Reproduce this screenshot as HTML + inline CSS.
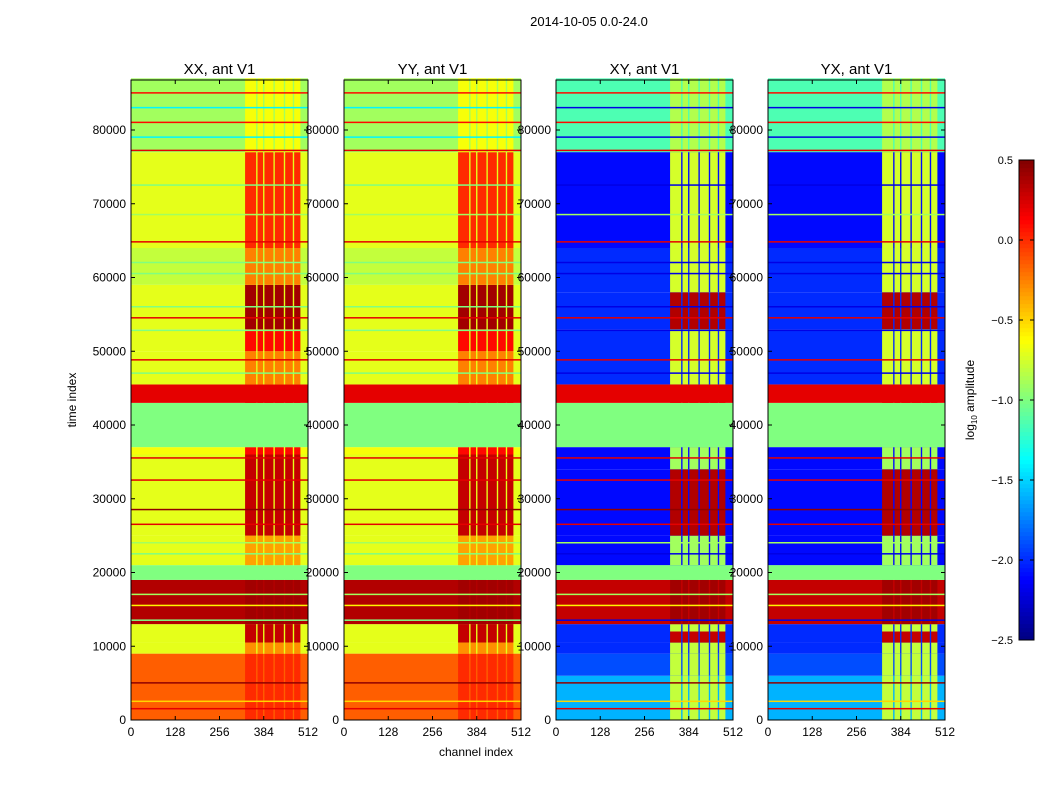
<!DOCTYPE html>
<html><head><meta charset="utf-8"><style>
body{margin:0;background:#fff;font-family:"Liberation Sans",sans-serif;}
svg text{font-family:"Liberation Sans",sans-serif;}
</style></head><body>
<svg id="fig" width="1050" height="800" xmlns="http://www.w3.org/2000/svg">
<text x="589" y="26" font-size="13" text-anchor="middle">2014-10-05 0.0-24.0</text>
<text x="476" y="756" font-size="12" text-anchor="middle">channel index</text>
<text transform="translate(76,400) rotate(-90)" font-size="12" text-anchor="middle">time index</text>
<text transform="translate(974,400) rotate(-90)" font-size="12" text-anchor="middle">log<tspan font-size="8" dy="3">10</tspan><tspan dy="-3"> amplitude</tspan></text>
<g id="panels"></g>
<g id="cbar"></g>
</svg>
<script>
const panelTitles = ["XX, ant V1","YY, ant V1","XY, ant V1","YX, ant V1"];
const yTicks = [0,10000,20000,30000,40000,50000,60000,70000,80000];
const xTicks = [0,128,256,384,512];
const cbarTicks = [0.5,0.0,-0.5,-1.0,-1.5,-2.0,-2.5];
const hotCols = [[330,362],[366,382],[386,412],[416,442],[446,468],[472,490]];
// rows: [t0, t1, baseValue, hotValue]
const rowsParallel = [
 [0,9000,-0.15,0.0],[9000,10500,-0.7,-0.3],[10500,13000,-0.7,0.3],[13000,19000,0.35,0.4],
 [19000,21000,-1.0,-1.0],[21000,25000,-0.7,-0.35],[25000,36000,-0.7,0.3],[36000,37000,-0.65,0.1],
 [37000,43000,-1.0,-1.0],[43000,45500,0.2,0.2],[45500,50000,-0.7,-0.25],[50000,53000,-0.7,0.1],
 [53000,59000,-0.7,0.4],[59000,64000,-0.8,-0.25],[64000,77000,-0.7,0.0],[77000,87000,-0.9,-0.65]
];
const rowsCross = [
 [0,6000,-1.6,-0.8],[6000,9000,-1.9,-0.8],[9000,10500,-2.0,-0.8],[10500,12000,-2.0,0.3],[12000,13000,-2.0,-0.8],
 [13000,19000,0.3,0.4],[19000,21000,-1.0,-1.0],[21000,25000,-2.1,-0.9],[25000,34000,-2.1,0.35],
 [34000,37000,-2.1,-0.9],[37000,43000,-1.0,-1.0],[43000,45500,0.2,0.2],[45500,53000,-2.0,-0.75],
 [53000,58000,-2.0,0.35],[58000,64000,-2.0,-0.75],[64000,77000,-2.1,-0.75],[77000,87000,-1.15,-0.85]
];
const panelRows = [rowsParallel,rowsParallel,rowsCross,rowsCross];
// thin horizontal lines: [time, value]
const lineRows = [[1500,0.2],[2500,-0.5],[5000,0.45],[13500,-1.0],[15500,-0.6],[17000,-0.9],[22500,-1.0],[24000,-0.9],
 [26500,0.2],[28500,0.45],[32500,0.2],[35500,0.2],[47000,-1.0],[48800,0.2],[52800,-1.0],[54500,0.2],[56000,-1.0],
 [60500,-1.0],[62000,-1.0],[64800,0.2],[68500,-0.9],[72500,-1.0],[77200,0.2],[79000,-1.4],[81000,0.1],[83000,-1.4],[85000,0.1]];

const panelX=[131,344,556,768], PW=177, Y0=720, YT=80, TMAX=86780;
const ys=t=>Y0-(t/TMAX)*(Y0-YT);
function jet(v){const x=Math.max(0,Math.min(1,(v+2.5)/3));const c=a=>Math.round(255*Math.max(0,Math.min(1,1.5-Math.abs(4*x-a))));return `rgb(${c(3)},${c(2)},${c(1)})`;}
const NS="http://www.w3.org/2000/svg";
function mk(tag,attrs,parent){const e=document.createElementNS(NS,tag);for(const k in attrs)e.setAttribute(k,attrs[k]);parent.appendChild(e);return e;}
const G=document.getElementById('panels');
panelX.forEach((px,pi)=>{
 const g=mk('g',{},G);
 
 
 const xs=c=>px+c/512*PW;
 panelRows[pi].forEach(r=>{
  const y1=ys(r[1]),y0=ys(r[0]);
  const rc=mk('rect',{x:px,y:y1,width:PW,height:y0-y1,fill:jet(r[2])},g);
  
  
  hotCols.forEach(h=>{
   const hc=mk('rect',{x:xs(h[0]),y:y1,width:xs(h[1])-xs(h[0]),height:y0-y1,fill:jet(r[3])},g);
   
   
  });
 });
 lineRows.forEach(l=>{
  const ln=mk('rect',{x:px,y:ys(l[0])-1,width:PW,height:1.5,fill:jet(pi>1&&l[1]<-0.95?-2.2:l[1])},g);
  
  
 });
 const fr=mk('rect',{x:px,y:YT,width:PW,height:Y0-YT,fill:'none',stroke:'#000','stroke-width':1},g);
 
 
 const tt=mk('text',{x:px+PW/2,y:74,'font-size':15,'text-anchor':'middle'},g);tt.textContent=panelTitles[pi];
 
 
 yTicks.forEach(t=>{
  const y=ys(t);
  mk('line',{x1:px,x2:px+4,y1:y,y2:y,stroke:'#000'},g);
  mk('line',{x1:px+PW-4,x2:px+PW,y1:y,y2:y,stroke:'#000'},g);
  const lb=mk('text',{x:px-5,y:y+4,'font-size':12,'text-anchor':'end'},g);lb.textContent=t;
  
  
 });
 xTicks.forEach(c=>{
  const x=xs(c);
  mk('line',{x1:x,x2:x,y1:Y0,y2:Y0-4,stroke:'#000'},g);
  mk('line',{x1:x,x2:x,y1:YT,y2:YT+4,stroke:'#000'},g);
  const lb=mk('text',{x:x,y:736,'font-size':12,'text-anchor':'middle'},g);lb.textContent=c;
  
  
 });
});
const C=document.getElementById('cbar');
const cy=v=>640-(v+2.5)/3*480;
for(let i=0;i<120;i++){const v=-2.5+i*3/120;const s=mk('rect',{x:1019,y:cy(v+3/120),width:15,height:4.2,fill:jet(v+1.5/120)},C);
 
 }
const cf=mk('rect',{x:1019,y:160,width:15,height:480,fill:'none',stroke:'#000'},C);


cbarTicks.forEach(v=>{const y=cy(v);
 mk('line',{x1:1019,x2:1023,y1:y,y2:y,stroke:'#000'},C);
 mk('line',{x1:1030,x2:1034,y1:y,y2:y,stroke:'#000'},C);
 const lb=mk('text',{x:1013,y:y+4,'font-size':11,'text-anchor':'end'},C);
 lb.textContent=v.toFixed(1).replace('-','\u2212');
 
 });
</script>
</body></html>
